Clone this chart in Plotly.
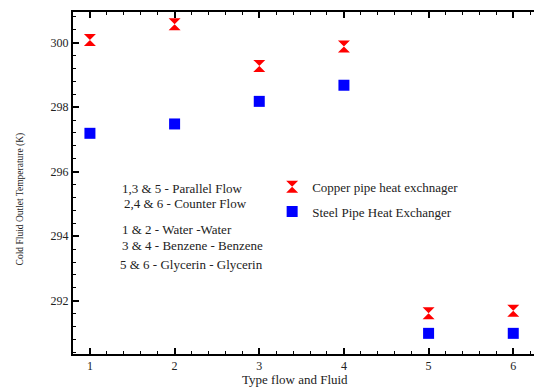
import plotly.graph_objects as go

case_types = [1, 2, 3, 4, 5, 6]
copper_temps = [300.08, 300.57, 299.28, 299.88, 291.61, 291.69]
steel_temps = [297.19, 297.48, 298.18, 298.68, 290.99, 290.99]
copper_name = "Copper pipe heat exchnager"
steel_name = "Steel Pipe Heat Exchanger"
note_lines = [
    "1,3 & 5 - Parallel Flow",
    "2,4 & 6 - Counter Flow",
    "1 & 2 - Water -Water",
    "3 & 4 - Benzene - Benzene",
    "5 & 6 - Glycerin - Glycerin",
]
x_title = "Type flow and Fluid"
y_title = "Cold Fluid Outlet Temperature (K)"

FONT = "'Liberation Serif', 'Times New Roman', 'DejaVu Serif', serif"

fig = go.Figure()
fig.add_trace(go.Scatter(
    x=case_types, y=copper_temps, mode="markers", name=copper_name,
    legendgroup="a",
    marker=dict(symbol="hourglass", size=12, color="#ff0000", line=dict(width=0)),
))
fig.add_trace(go.Scatter(
    x=case_types, y=steel_temps, mode="markers", name=steel_name,
    legendgroup="b",
    marker=dict(symbol="square", size=11, color="#0000ff", line=dict(width=0)),
))

note_y = [0.485, 0.439, 0.365, 0.316, 0.263]
note_x = [0.102, 0.106, 0.102, 0.102, 0.098]
annotations = []
for t, xx, yy in zip(note_lines, note_x, note_y):
    annotations.append(dict(text=t, x=xx, y=yy, xref="paper", yref="paper",
                            xanchor="left", yanchor="middle", showarrow=False,
                            font=dict(family=FONT, size=13, color="#222")))
annotations.append(dict(text=x_title, x=0.4816, y=-0.076, xref="paper", yref="paper",
                        yanchor="middle", showarrow=False,
                        font=dict(family=FONT, size=13, color="#222")))
annotations.append(dict(text=y_title, x=-0.115, y=0.455, xref="paper", yref="paper",
                        textangle=-90, showarrow=False, xanchor="center", yanchor="middle",
                        font=dict(family=FONT, size=9.5, color="#222")))

fig.update_layout(
    width=534, height=388,
    margin=dict(l=73, r=0, t=12, b=34),
    paper_bgcolor="white", plot_bgcolor="white",
    font=dict(family=FONT, size=12, color="#222"),
    showlegend=True,
    legend=dict(x=0.432, y=0.533, xanchor="left", yanchor="top",
                bgcolor="rgba(0,0,0,0)", font=dict(family=FONT, size=13, color="#222"),
                traceorder="grouped", tracegroupgap=5),
    annotations=annotations,
    xaxis=dict(range=[0.8, 6.245], tickmode="array", tickvals=case_types,
               ticks="inside", ticklen=6, tickwidth=1.5, tickcolor="black",
               showline=True, linecolor="black", linewidth=2, mirror="ticks",
               showgrid=False, zeroline=False,
               minor=dict(dtick=0.2, ticks="inside", ticklen=3, tickcolor="black", tickwidth=1),
               tickfont=dict(family=FONT, size=12)),
    yaxis=dict(range=[290.35, 300.95], tickmode="array", tickvals=[292, 294, 296, 298, 300],
               ticks="inside", ticklen=6, tickwidth=1.5, tickcolor="black",
               showline=True, linecolor="black", linewidth=2, mirror=False,
               showgrid=False, zeroline=False,
               minor=dict(dtick=0.4, tick0=290, ticks="inside", ticklen=3, tickcolor="black", tickwidth=1),
               tickfont=dict(family=FONT, size=12)),
)

fig.write_html("out.html")
